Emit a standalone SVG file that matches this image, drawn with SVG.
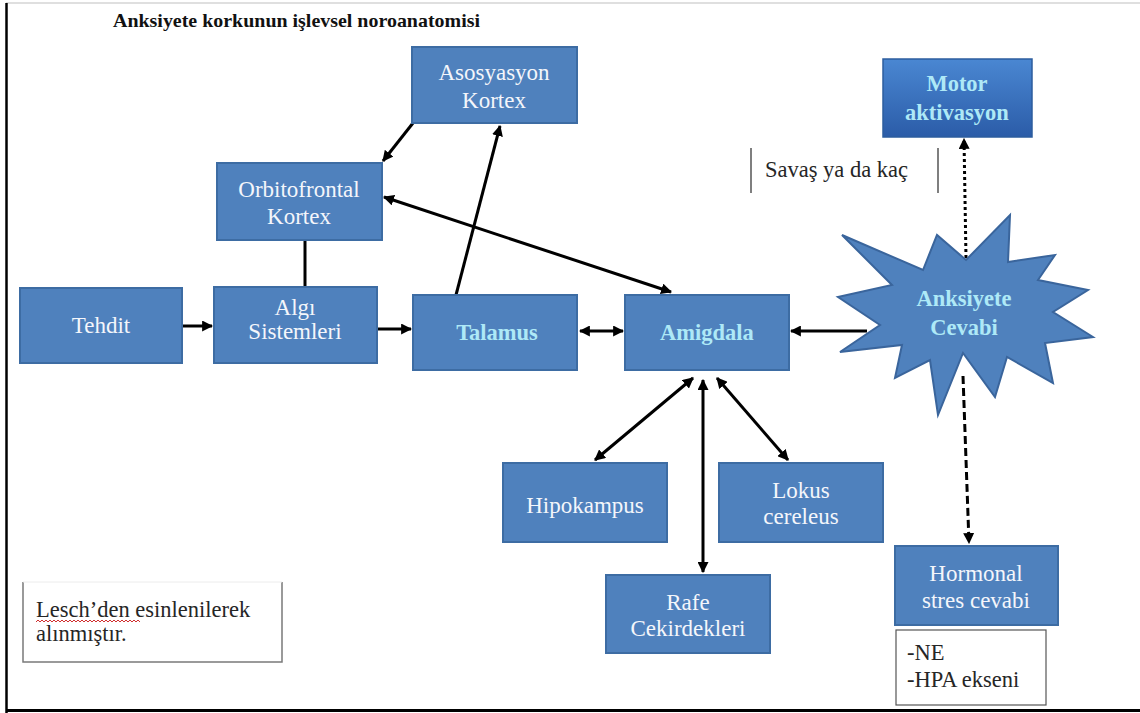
<svg xmlns="http://www.w3.org/2000/svg" width="1140" height="713" viewBox="0 0 1140 713" font-family="'Liberation Serif','Times New Roman',serif">
<style>
.box{fill:#4f81bd;stroke:#3d6ca3;stroke-width:2}
.t{font-size:23px;fill:#f4f6fb;text-anchor:middle}
.c{font-size:22.5px;font-weight:bold;fill:#aee9f7;text-anchor:middle}
.d{font-size:22.5px;fill:#262626}
.ln{stroke:#000;stroke-width:3;fill:none}
.a{marker-end:url(#ah)}
.b{marker-start:url(#ah);marker-end:url(#ah)}
</style>
<defs>
<marker id="ah" viewBox="0 0 10 10" refX="9" refY="5" markerWidth="11" markerHeight="11" markerUnits="userSpaceOnUse" orient="auto-start-reverse">
<path d="M0,0 L10,5 L0,10 z" fill="#000"/>
</marker>
<linearGradient id="mg" x1="0" y1="0" x2="0" y2="1">
<stop offset="0" stop-color="#4a87d2"/>
<stop offset="1" stop-color="#2b5ca8"/>
</linearGradient>
</defs>
<rect width="1140" height="713" fill="#fff"/>
<g id="frame">
<line x1="6" y1="3" x2="1140" y2="3" stroke="#d4d4d4" stroke-width="1.5"/>
<line x1="6.5" y1="3" x2="6.5" y2="713" stroke="#000" stroke-width="2.5"/>
<line x1="6" y1="710.5" x2="1140" y2="710.5" stroke="#000" stroke-width="3"/>
</g>
<text id="title" x="113" y="27" font-size="19.5" font-weight="bold" fill="#111" textLength="367" lengthAdjust="spacingAndGlyphs">Anksiyete korkunun işlevsel noroanatomisi</text>

<g id="connectors">
<line class="ln a" x1="182" y1="326" x2="212" y2="326"/>
<line class="ln a" x1="377" y1="329" x2="411" y2="329"/>
<line class="ln" x1="305" y1="240" x2="305" y2="287"/>
<line class="ln a" x1="413" y1="123" x2="383" y2="161"/>
<line class="ln a" x1="456" y1="295" x2="500" y2="126"/>
<line class="ln b" x1="384" y1="197" x2="671" y2="292"/>
<line class="ln b" x1="580" y1="331" x2="623" y2="331"/>
<line class="ln a" x1="867" y1="331" x2="791" y2="331"/>
<line class="ln b" x1="693" y1="378" x2="595" y2="460"/>
<line class="ln b" x1="703" y1="380" x2="703" y2="572"/>
<line class="ln b" x1="717" y1="378" x2="788" y2="460"/>
<line class="ln a" x1="966" y1="258" x2="964" y2="139" stroke-dasharray="3 3"/>
<line class="ln a" x1="963" y1="376" x2="969" y2="543" stroke-dasharray="8 4"/>
</g>

<g id="tehdit"><rect class="box" x="20" y="288" width="162" height="75"/><text class="t" x="101" y="333">Tehdit</text></g>
<g id="algi"><rect class="box" x="214" y="287" width="163" height="76"/><text class="t" x="295" y="315">Algı</text><text class="t" x="295" y="339">Sistemleri</text></g>
<g id="orbitofrontal"><rect class="box" x="217" y="163" width="165" height="77"/><text class="t" x="299" y="197">Orbitofrontal</text><text class="t" x="299" y="224">Kortex</text></g>
<g id="asosyasyon"><rect class="box" x="412" y="47" width="165" height="76"/><text class="t" x="494" y="80">Asosyasyon</text><text class="t" x="494" y="108">Kortex</text></g>
<g id="talamus"><rect class="box" x="413" y="295" width="164" height="75"/><text class="c" x="497" y="340">Talamus</text></g>
<g id="amigdala"><rect class="box" x="625" y="295" width="164" height="75"/><text class="c" x="707" y="340">Amigdala</text></g>
<g id="hipokampus"><rect class="box" x="503" y="463" width="164" height="79"/><text class="t" x="585" y="513">Hipokampus</text></g>
<g id="lokus"><rect class="box" x="719" y="463" width="164" height="79"/><text class="t" x="801" y="498">Lokus</text><text class="t" x="801" y="524">cereleus</text></g>
<g id="rafe"><rect class="box" x="606" y="575" width="164" height="78"/><text class="t" x="688" y="610">Rafe</text><text class="t" x="688" y="636">Cekirdekleri</text></g>
<g id="motor"><rect x="883" y="59" width="149" height="78" fill="url(#mg)" stroke="#2d5d9e" stroke-width="1.5"/><text class="c" x="957" y="91">Motor</text><text class="c" x="957" y="120">aktivasyon</text></g>
<g id="anksiyete">
<polygon points="842,235 923,270 937,235 966,260 1010,215 1008,262 1055,255 1038,280 1088,290 1053,312 1093,337 1045,343 1053,383 1007,357 995,397 963,353 938,415 930,360 895,378 902,345 840,352 880,325 838,297 892,285" fill="#4f81bd" stroke="#3a659c" stroke-width="2" stroke-linejoin="miter"/>
<text class="c" x="964" y="306">Anksiyete</text><text class="c" x="964" y="335">Cevabi</text>
</g>
<g id="hormonal"><rect class="box" x="895" y="546" width="163" height="79"/><text class="t" x="976" y="581">Hormonal</text><text class="t" x="976" y="608">stres cevabi</text></g>
<g id="ne"><rect x="896" y="630" width="150" height="75" fill="#fff" stroke="#555" stroke-width="1.2"/><text class="d" x="907" y="660">-NE</text><text class="d" x="907" y="687">-HPA ekseni</text></g>
<g id="savas">
<line x1="751" y1="148" x2="751" y2="193" stroke="#555" stroke-width="1.5"/>
<line x1="938" y1="148" x2="938" y2="193" stroke="#555" stroke-width="1.5"/>
<text class="d" x="765" y="177" fill="#333">Savaş ya da kaç</text>
</g>
<g id="lesch">
<path d="M23,582 V662 H282 V582" fill="none" stroke="#7a7a7a" stroke-width="1.5"/>
<line x1="23" y1="582" x2="282" y2="582" stroke="#ececec" stroke-width="1"/>
<text class="d" x="36" y="617">Lesch’den esinlenilerek</text>
<text class="d" x="36" y="641">alınmıştır.</text>
<path d="M36,622 l2,-2 l2,2 l2,-2 l2,2 l2,-2 l2,2 l2,-2 l2,2 l2,-2 l2,2 l2,-2 l2,2 l2,-2 l2,2 l2,-2 l2,2 l2,-2 l2,2 l2,-2 l2,2 l2,-2 l2,2 l2,-2 l2,2 l2,-2 l2,2 l2,-2 l2,2 l2,-2 l2,2 l2,-2 l2,2 l2,-2 l2,2 l2,-2 l2,2 l2,-2 l2,2 l2,-2 l2,2 l2,-2 l2,2 l2,-2 l2,2 l2,-2 l2,2 l2,-2 l2,2 l2,-2 l2,2 l2,-2 l2,2" fill="none" stroke="#d03030" stroke-width="1"/>
</g>
</svg>
